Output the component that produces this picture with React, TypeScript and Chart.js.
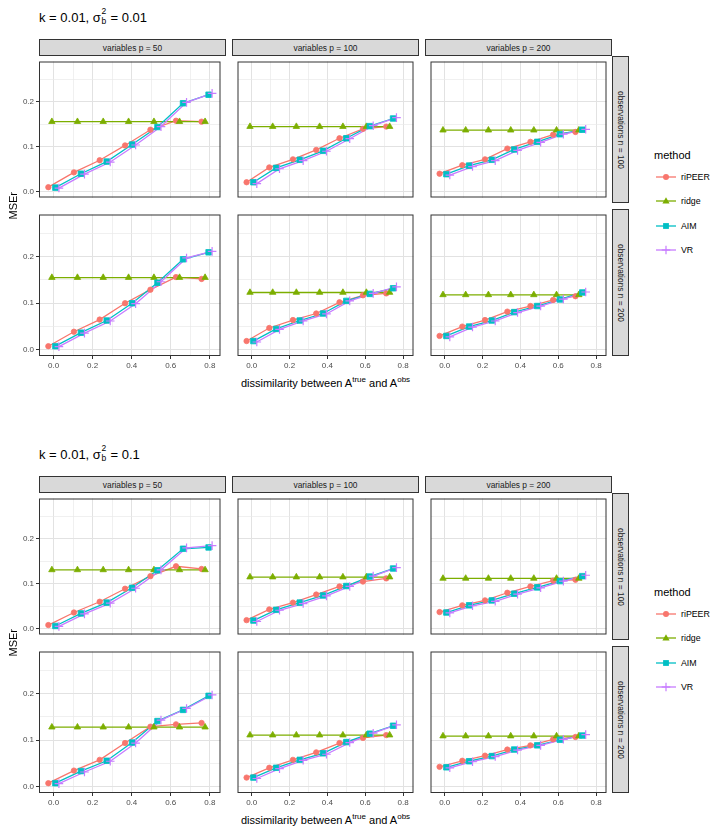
import React, { useEffect, useRef } from 'react';
import { Chart, registerables } from 'chart.js';

Chart.register(...registerables);

const FONT = "'Liberation Sans', Arial, Helvetica, sans-serif";

// ---------- categories / labels ----------
const methods = ['riPEER', 'ridge', 'AIM', 'VR'];
const methodColors = ['#F8766D', '#7CAE00', '#00BFC4', '#C77CFF'];
const methodShapes = ['circle', 'triangle', 'rect', 'cross'];

const columnLabels = ['variables p = 50', 'variables p = 100', 'variables p = 200'];
const rowLabels = ['observations n = 100', 'observations n = 200'];

const figureKs = ['0.01', '0.01'];
const figureSigmas = ['0.01', '0.1'];

// ---------- tick labels ----------
const xTickValues = [0, 0.1, 0.2, 0.3, 0.4, 0.5, 0.6, 0.7, 0.8];
const xTickLabels = ['0.0', '', '0.2', '', '0.4', '', '0.6', '', '0.8'];
const yTickValues = [0, 0.05, 0.1, 0.15, 0.2, 0.25];
const yTickLabels = ['0.0', '', '0.1', '', '0.2', ''];

// ---------- dissimilarity levels (x) per column ----------
const dissimilarityP50 = [0.0, 0.131, 0.263, 0.393, 0.523, 0.654, 0.785];
const dissimilarityP100 = [0.0, 0.12, 0.245, 0.368, 0.491, 0.615, 0.738];
const dissimilarityP200 = [0.0, 0.12, 0.24, 0.358, 0.48, 0.6, 0.718];

// ---------- Figure 1: k = 0.01, sigma_b^2 = 0.01 ----------
const f1_n100_p50_riPEER = [0.010, 0.043, 0.070, 0.103, 0.138, 0.158, 0.156];
const f1_n100_p50_ridge = [0.156, 0.156, 0.156, 0.156, 0.156, 0.156, 0.156];
const f1_n100_p50_AIM = [0.009, 0.040, 0.067, 0.105, 0.144, 0.197, 0.216];
const f1_n100_p50_VR = [0.008, 0.039, 0.066, 0.104, 0.145, 0.199, 0.219];

const f1_n100_p100_riPEER = [0.021, 0.054, 0.072, 0.093, 0.119, 0.140, 0.145];
const f1_n100_p100_ridge = [0.145, 0.145, 0.145, 0.145, 0.145, 0.145, 0.145];
const f1_n100_p100_AIM = [0.021, 0.053, 0.071, 0.091, 0.119, 0.146, 0.163];
const f1_n100_p100_VR = [0.018, 0.051, 0.069, 0.090, 0.118, 0.147, 0.165];

const f1_n100_p200_riPEER = [0.040, 0.059, 0.072, 0.096, 0.111, 0.127, 0.133];
const f1_n100_p200_ridge = [0.137, 0.137, 0.137, 0.137, 0.137, 0.137, 0.137];
const f1_n100_p200_AIM = [0.039, 0.058, 0.071, 0.094, 0.111, 0.128, 0.138];
const f1_n100_p200_VR = [0.037, 0.056, 0.069, 0.092, 0.110, 0.128, 0.139];

const f1_n200_p50_riPEER = [0.008, 0.039, 0.065, 0.100, 0.129, 0.156, 0.152];
const f1_n200_p50_ridge = [0.155, 0.155, 0.155, 0.155, 0.155, 0.155, 0.155];
const f1_n200_p50_AIM = [0.008, 0.037, 0.063, 0.100, 0.144, 0.194, 0.209];
const f1_n200_p50_VR = [0.007, 0.036, 0.062, 0.099, 0.146, 0.197, 0.211];

const f1_n200_p100_riPEER = [0.019, 0.047, 0.064, 0.078, 0.102, 0.117, 0.121];
const f1_n200_p100_ridge = [0.123, 0.123, 0.123, 0.123, 0.123, 0.123, 0.123];
const f1_n200_p100_AIM = [0.019, 0.045, 0.063, 0.078, 0.105, 0.120, 0.132];
const f1_n200_p100_VR = [0.017, 0.044, 0.062, 0.077, 0.105, 0.121, 0.135];

const f1_n200_p200_riPEER = [0.030, 0.050, 0.064, 0.082, 0.094, 0.107, 0.115];
const f1_n200_p200_ridge = [0.118, 0.118, 0.118, 0.118, 0.118, 0.118, 0.118];
const f1_n200_p200_AIM = [0.030, 0.050, 0.063, 0.081, 0.094, 0.108, 0.123];
const f1_n200_p200_VR = [0.028, 0.049, 0.062, 0.080, 0.094, 0.109, 0.124];

// ---------- Figure 2: k = 0.01, sigma_b^2 = 0.1 ----------
const f2_n100_p50_riPEER = [0.008, 0.036, 0.060, 0.089, 0.117, 0.139, 0.133];
const f2_n100_p50_ridge = [0.131, 0.131, 0.131, 0.131, 0.131, 0.131, 0.131];
const f2_n100_p50_AIM = [0.006, 0.034, 0.058, 0.091, 0.130, 0.178, 0.181];
const f2_n100_p50_VR = [0.005, 0.033, 0.057, 0.090, 0.131, 0.180, 0.185];

const f2_n100_p100_riPEER = [0.019, 0.043, 0.058, 0.076, 0.094, 0.105, 0.112];
const f2_n100_p100_ridge = [0.115, 0.115, 0.115, 0.115, 0.115, 0.115, 0.115];
const f2_n100_p100_AIM = [0.018, 0.042, 0.058, 0.074, 0.095, 0.116, 0.134];
const f2_n100_p100_VR = [0.016, 0.041, 0.056, 0.073, 0.094, 0.117, 0.136];

const f2_n100_p200_riPEER = [0.037, 0.052, 0.063, 0.080, 0.094, 0.107, 0.109];
const f2_n100_p200_ridge = [0.112, 0.112, 0.112, 0.112, 0.112, 0.112, 0.112];
const f2_n100_p200_AIM = [0.036, 0.052, 0.063, 0.078, 0.092, 0.106, 0.117];
const f2_n100_p200_VR = [0.035, 0.051, 0.061, 0.077, 0.091, 0.106, 0.119];

const f2_n200_p50_riPEER = [0.008, 0.035, 0.058, 0.094, 0.129, 0.134, 0.137];
const f2_n200_p50_ridge = [0.128, 0.128, 0.128, 0.128, 0.128, 0.128, 0.128];
const f2_n200_p50_AIM = [0.008, 0.034, 0.056, 0.095, 0.141, 0.165, 0.195];
const f2_n200_p50_VR = [0.007, 0.032, 0.055, 0.094, 0.143, 0.168, 0.197];

const f2_n200_p100_riPEER = [0.020, 0.041, 0.058, 0.074, 0.094, 0.105, 0.111];
const f2_n200_p100_ridge = [0.111, 0.111, 0.111, 0.111, 0.111, 0.111, 0.111];
const f2_n200_p100_AIM = [0.020, 0.041, 0.058, 0.072, 0.096, 0.114, 0.131];
const f2_n200_p100_VR = [0.018, 0.039, 0.057, 0.070, 0.095, 0.115, 0.133];

const f2_n200_p200_riPEER = [0.043, 0.056, 0.067, 0.080, 0.089, 0.102, 0.107];
const f2_n200_p200_ridge = [0.109, 0.109, 0.109, 0.109, 0.109, 0.109, 0.109];
const f2_n200_p200_AIM = [0.042, 0.055, 0.066, 0.080, 0.089, 0.101, 0.110];
const f2_n200_p200_VR = [0.041, 0.054, 0.065, 0.079, 0.089, 0.102, 0.112];

// ---------- tables built from the arrays ----------
const columnDissimilarity = [dissimilarityP50, dissimilarityP100, dissimilarityP200];

const figureSeries = [
  [
    [
      [f1_n100_p50_riPEER, f1_n100_p50_ridge, f1_n100_p50_AIM, f1_n100_p50_VR],
      [f1_n100_p100_riPEER, f1_n100_p100_ridge, f1_n100_p100_AIM, f1_n100_p100_VR],
      [f1_n100_p200_riPEER, f1_n100_p200_ridge, f1_n100_p200_AIM, f1_n100_p200_VR],
    ],
    [
      [f1_n200_p50_riPEER, f1_n200_p50_ridge, f1_n200_p50_AIM, f1_n200_p50_VR],
      [f1_n200_p100_riPEER, f1_n200_p100_ridge, f1_n200_p100_AIM, f1_n200_p100_VR],
      [f1_n200_p200_riPEER, f1_n200_p200_ridge, f1_n200_p200_AIM, f1_n200_p200_VR],
    ],
  ],
  [
    [
      [f2_n100_p50_riPEER, f2_n100_p50_ridge, f2_n100_p50_AIM, f2_n100_p50_VR],
      [f2_n100_p100_riPEER, f2_n100_p100_ridge, f2_n100_p100_AIM, f2_n100_p100_VR],
      [f2_n100_p200_riPEER, f2_n100_p200_ridge, f2_n100_p200_AIM, f2_n100_p200_VR],
    ],
    [
      [f2_n200_p50_riPEER, f2_n200_p50_ridge, f2_n200_p50_AIM, f2_n200_p50_VR],
      [f2_n200_p100_riPEER, f2_n200_p100_ridge, f2_n200_p100_AIM, f2_n200_p100_VR],
      [f2_n200_p200_riPEER, f2_n200_p200_ridge, f2_n200_p200_AIM, f2_n200_p200_VR],
    ],
  ],
];

// ---------- layout ----------
const X_MIN = -0.075;
const X_MAX = 0.855;
const Y_MIN = -0.013;
const Y_MAX = 0.29;
const DODGE_WIDTH = 0.072;

const FIG_OFFSETS = [0, 437];
const PANEL_LEFTS = [39, 232, 425];
const PANEL_W = 187;
const PANEL_TOPS = [56, 209];
const PANEL_H = 147;
const STRIP_TOP = 39;
const STRIP_H = 17;
const RSTRIP_LEFT = 612;
const RSTRIP_W = 17;
const Y_AXIS_W = 30;
const X_AXIS_H = 16;

const GRID_MAJOR = '#E2E2E2';
const GRID_MINOR = '#E9E9E9';

const panelBorder = {
  id: 'panelBorder',
  afterDraw(chart: any) {
    const { ctx, chartArea: a } = chart;
    ctx.save();
    ctx.strokeStyle = '#333333';
    ctx.lineWidth = 1;
    ctx.strokeRect(a.left + 0.5, a.top + 0.5, a.width - 1, a.height - 1);
    ctx.restore();
  },
};

function Panel(props: {
  left: number;
  top: number;
  showX: boolean;
  showY: boolean;
  xs: number[];
  series: number[][];
}) {
  const { left, top, showX, showY, xs, series } = props;
  const ref = useRef<HTMLCanvasElement>(null);
  const yW = showY ? Y_AXIS_W : 0;
  const xH = showX ? X_AXIS_H : 0;
  const cw = PANEL_W + yW;
  const ch = PANEL_H + xH;

  useEffect(() => {
    if (!ref.current) return;
    const datasets: any[] = [];
    methods.forEach((m, k) => {
      const off = (k - 1.5) * (DODGE_WIDTH / 4);
      const pts = xs.map((x, i) => ({ x: x + off, y: series[k][i] }));
      datasets.push({
        label: m + '-line',
        data: pts,
        showLine: true,
        borderColor: methodColors[k],
        backgroundColor: methodColors[k],
        borderWidth: 1.3,
        pointRadius: 0,
        order: 20 - k,
      });
    });
    methods.forEach((m, k) => {
      const off = (k - 1.5) * (DODGE_WIDTH / 4);
      const pts = xs.map((x, i) => ({ x: x + off, y: series[k][i] }));
      const shape = methodShapes[k];
      const radius = shape === 'circle' ? 2.7 : shape === 'triangle' ? 3.7 : shape === 'rect' ? 3.9 : 4.3;
      datasets.push({
        label: m,
        data: pts,
        showLine: false,
        borderColor: methodColors[k],
        backgroundColor: methodColors[k],
        pointStyle: shape,
        pointRadius: radius,
        pointBorderWidth: shape === 'cross' ? 1.2 : 0.8,
        order: 10 - k,
      });
    });

    const chart = new Chart(ref.current, {
      type: 'scatter',
      data: { datasets },
      options: {
        animation: false,
        responsive: false,
        maintainAspectRatio: false,
        events: [],
        layout: { padding: 0 },
        plugins: { legend: { display: false }, tooltip: { enabled: false } },
        scales: {
          x: {
            type: 'linear',
            min: X_MIN,
            max: X_MAX,
            afterBuildTicks: (s: any) => {
              s.ticks = xTickValues.map((v) => ({ value: v }));
            },
            afterFit: (s: any) => {
              s.height = xH;
              s.paddingLeft = 0;
              s.paddingRight = 0;
              s.paddingTop = 0;
              s.paddingBottom = 0;
            },
            border: { display: false },
            grid: {
              display: true,
              drawOnChartArea: true,
              color: (c: any) => (xTickLabels[c.index] ? GRID_MAJOR : GRID_MINOR),
              lineWidth: (c: any) => (xTickLabels[c.index] ? 1 : 0.7),
              drawTicks: showX,
              tickLength: 3,
              tickWidth: 1,
              tickColor: (c: any) => (xTickLabels[c.index] ? '#333333' : 'rgba(0,0,0,0)'),
            },
            ticks: {
              display: showX,
              autoSkip: false,
              maxRotation: 0,
              padding: 2,
              color: '#4D4D4D',
              font: { family: FONT, size: 8 },
              callback: (_v: any, i: number) => xTickLabels[i],
            },
          },
          y: {
            type: 'linear',
            min: Y_MIN,
            max: Y_MAX,
            afterBuildTicks: (s: any) => {
              s.ticks = yTickValues.map((v) => ({ value: v }));
            },
            afterFit: (s: any) => {
              s.width = yW;
              s.paddingLeft = 0;
              s.paddingRight = 0;
              s.paddingTop = 0;
              s.paddingBottom = 0;
            },
            border: { display: false },
            grid: {
              display: true,
              drawOnChartArea: true,
              color: (c: any) => (yTickLabels[c.index] ? GRID_MAJOR : GRID_MINOR),
              lineWidth: (c: any) => (yTickLabels[c.index] ? 1 : 0.7),
              drawTicks: showY,
              tickLength: 3,
              tickWidth: 1,
              tickColor: (c: any) => (yTickLabels[c.index] ? '#333333' : 'rgba(0,0,0,0)'),
            },
            ticks: {
              display: showY,
              autoSkip: false,
              padding: 2,
              color: '#4D4D4D',
              font: { family: FONT, size: 8 },
              callback: (_v: any, i: number) => yTickLabels[i],
            },
          },
        },
      } as any,
      plugins: [panelBorder],
    });
    return () => chart.destroy();
  }, []);

  return (
    <canvas
      ref={ref}
      width={cw}
      height={ch}
      style={{ position: 'absolute', left: left - yW, top, width: cw, height: ch }}
    />
  );
}

function LegendGlyph({ k }: { k: number }) {
  const c = methodColors[k];
  const s = methodShapes[k];
  let mark: any = null;
  if (s === 'circle') mark = <circle cx={10} cy={10} r={3} fill={c} />;
  else if (s === 'triangle') mark = <polygon points="10,6.3 13.6,12.6 6.4,12.6" fill={c} />;
  else if (s === 'rect') mark = <rect x={7.1} y={7.1} width={5.8} height={5.8} fill={c} />;
  else
    mark = (
      <g stroke={c} strokeWidth={1.2}>
        <line x1={5.7} y1={10} x2={14.3} y2={10} />
        <line x1={10} y1={5.7} x2={10} y2={14.3} />
      </g>
    );
  return (
    <svg width={20} height={20} style={{ position: 'absolute', left: 0, top: 0 }}>
      <line x1={0} y1={10} x2={20} y2={10} stroke={c} strokeWidth={1.3} />
      {mark}
    </svg>
  );
}

function Figure({ f }: { f: number }) {
  const oy = FIG_OFFSETS[f];
  const textBase: any = { position: 'absolute', fontFamily: FONT, whiteSpace: 'nowrap' };
  return (
    <>
      {/* title */}
      <div style={{ ...textBase, left: 39, top: 9.7 + oy, fontSize: 13, lineHeight: '15px', color: '#000' }}>
        {'k = ' + figureKs[f] + ', σ'}
        <span style={{ display: 'inline-block', position: 'relative', width: 6, height: 10 }}>
          <span style={{ position: 'absolute', left: 0.5, top: -4.6, fontSize: 8.5, lineHeight: '9px' }}>2</span>
          <span style={{ position: 'absolute', left: 0.5, top: 5.7, fontSize: 8.5, lineHeight: '9px' }}>b</span>
        </span>
        {' = ' + figureSigmas[f]}
      </div>

      {/* column strips */}
      {columnLabels.map((lab, j) => (
        <div
          key={'cs' + j}
          style={{
            ...textBase,
            left: PANEL_LEFTS[j],
            top: STRIP_TOP + oy,
            width: PANEL_W,
            height: STRIP_H,
            boxSizing: 'border-box',
            background: '#D9D9D9',
            border: '1px solid #333333',
            fontSize: 8.4,
            color: '#1A1A1A',
            display: 'flex',
            alignItems: 'center',
            justifyContent: 'center',
          }}
        >
          {lab}
        </div>
      ))}

      {/* row strips */}
      {rowLabels.map((lab, i) => (
        <div
          key={'rs' + i}
          style={{
            ...textBase,
            left: RSTRIP_LEFT,
            top: PANEL_TOPS[i] + oy,
            width: RSTRIP_W,
            height: PANEL_H,
            boxSizing: 'border-box',
            background: '#D9D9D9',
            border: '1px solid #333333',
            fontSize: 8.4,
            color: '#1A1A1A',
            display: 'flex',
            alignItems: 'center',
            justifyContent: 'center',
          }}
        >
          <span style={{ writingMode: 'vertical-rl' as any }}>{lab}</span>
        </div>
      ))}

      {/* panels */}
      {PANEL_TOPS.map((t, i) =>
        PANEL_LEFTS.map((l, j) => (
          <Panel
            key={'p' + i + j}
            left={l}
            top={t + oy}
            showX={i === PANEL_TOPS.length - 1}
            showY={j === 0}
            xs={columnDissimilarity[j]}
            series={figureSeries[f][i][j]}
          />
        ))
      )}

      {/* y axis title */}
      <div
        style={{
          ...textBase,
          left: 4,
          top: PANEL_TOPS[0] + oy,
          width: 17,
          height: PANEL_TOPS[1] + PANEL_H - PANEL_TOPS[0],
          display: 'flex',
          alignItems: 'center',
          justifyContent: 'center',
          fontSize: 11,
          color: '#000',
        }}
      >
        <span style={{ writingMode: 'vertical-rl' as any, transform: 'rotate(180deg)' }}>MSEr</span>
      </div>

      {/* x axis title */}
      <div
        style={{
          ...textBase,
          left: PANEL_LEFTS[0],
          top: 375 + oy,
          width: PANEL_LEFTS[2] + PANEL_W - PANEL_LEFTS[0],
          height: 16,
          lineHeight: '16px',
          textAlign: 'center',
          fontSize: 11,
          color: '#000',
        }}
      >
        dissimilarity between A
        <span style={{ fontSize: 8, verticalAlign: 5, lineHeight: 0 }}>true</span>
        {' and A'}
        <span style={{ fontSize: 8, verticalAlign: 5, lineHeight: 0 }}>obs</span>
      </div>

      {/* legend */}
      <div style={{ ...textBase, left: 654, top: 149 + oy, fontSize: 11, lineHeight: '13px', color: '#000' }}>
        method
      </div>
      {methods.map((m, k) => (
        <div key={'lg' + k} style={{ position: 'absolute', left: 656, top: 167 + k * 24.3 + oy, width: 60, height: 20 }}>
          <LegendGlyph k={k} />
          <div
            style={{
              ...textBase,
              left: 25,
              top: 0,
              height: 20,
              lineHeight: '20px',
              fontSize: 8.8,
              color: '#000',
            }}
          >
            {m}
          </div>
        </div>
      ))}
    </>
  );
}

export default function App() {
  return (
    <div
      style={{
        position: 'absolute',
        left: 0,
        top: 0,
        width: 717,
        height: 834,
        background: '#FFFFFF',
        overflow: 'hidden',
      }}
    >
      <Figure f={0} />
      <Figure f={1} />
    </div>
  );
}
